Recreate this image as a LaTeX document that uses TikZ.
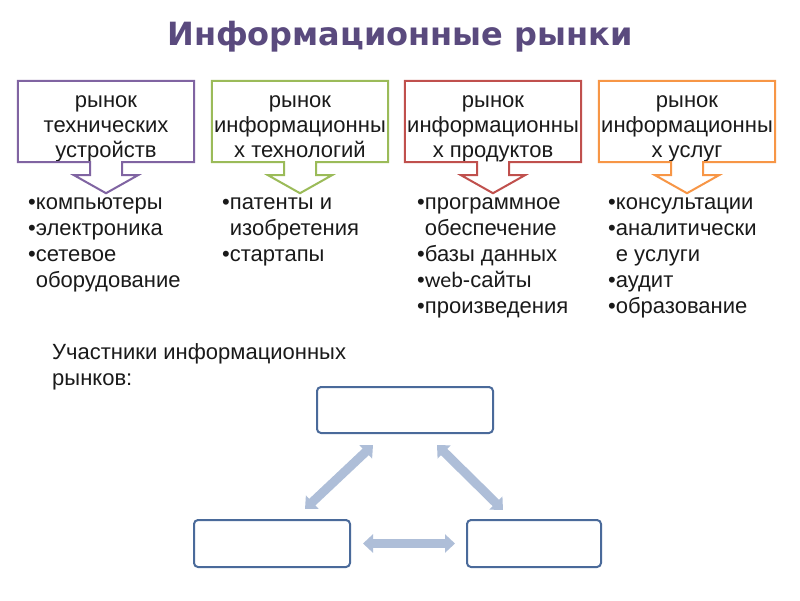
\documentclass[tikz,border=0pt]{standalone}
\usepackage{fontspec}
\setmainfont{Liberation Sans}
\newfontfamily\carlito{Carlito}
\newfontfamily\titlefont{DejaVu Sans}
\usetikzlibrary{calc,arrows.meta}
\definecolor{cpurple}{HTML}{8064A2}
\definecolor{cgreen}{HTML}{9BBB59}
\definecolor{cred}{HTML}{C0504D}
\definecolor{corange}{HTML}{F79646}
\definecolor{titlecol}{HTML}{5A4A7E}
\definecolor{textcol}{HTML}{1A1A1A}
\definecolor{pbox}{HTML}{4A6A9A}
\definecolor{arrowcol}{HTML}{AEBED8}
\newcommand\calloutshape[2]{%
  \draw[callout, draw=#2] (#1.north west) -- (#1.north east) -- (#1.south east)
   -- ($(#1.south)+(16,0)$) -- ($(#1.south)+(16,13)$) -- ($(#1.south)+(32,13)$)
   -- ($(#1.south)+(0,31)$) -- ($(#1.south)+(-32,13)$) -- ($(#1.south)+(-16,13)$)
   -- ($(#1.south)+(-16,0)$) -- (#1.south west) -- cycle;}
\begin{document}
\begin{tikzpicture}[x=1pt,y=-1pt,
  mbox/.style={inner sep=0pt, minimum width=176pt, text height=26pt, text depth=55pt,
    font=\fontsize{22}{25}\selectfont, text=textcol},
  callout/.style={line width=2pt, line join=miter},
  blist/.style={inner sep=0pt, anchor=base west, font=\fontsize{22}{26}\selectfont, text=textcol},
  pnode/.style={draw=pbox, line width=2pt, rounded corners=4pt, fill=white, inner sep=0pt},
  dbl/.style={line width=9pt, draw=arrowcol,
    arrows={Triangle[width=18pt,length=10pt]-Triangle[width=18pt,length=10pt]}}
]
\useasboundingbox (0,0) rectangle (800,600);
\fill[white] (0,0) rectangle (800,600);

\node[anchor=base, font=\titlefont\bfseries\fontsize{32}{36}\selectfont, text=titlecol] (title) at (400,45) {Информационные рынки};

\node[mbox] (m1) at (106,121.5) {\begin{tabular}[t]{@{}c@{}}рынок\\технических\\устройств\end{tabular}};
\node[mbox] (m2) at (300,121.5) {\begin{tabular}[t]{@{}c@{}}рынок\\информационны\\х технологий\end{tabular}};
\node[mbox] (m3) at (493,121.5) {\begin{tabular}[t]{@{}c@{}}рынок\\информационны\\х продуктов\end{tabular}};
\node[mbox] (m4) at (687,121.5) {\begin{tabular}[t]{@{}c@{}}рынок\\информационны\\х услуг\end{tabular}};
\calloutshape{m1}{cpurple}
\calloutshape{m2}{cgreen}
\calloutshape{m3}{cred}
\calloutshape{m4}{corange}

\node[blist] (l1) at (28,209) {\begin{tabular}[t]{@{}l@{}}•компьютеры\\•электроника\\•сетевое\\\phantom{•}оборудование\end{tabular}};
\node[blist] (l2) at (222,209) {\begin{tabular}[t]{@{}l@{}}•патенты и\\\phantom{•}изобретения\\•стартапы\end{tabular}};
\node[blist] (l3) at (417,209) {\begin{tabular}[t]{@{}l@{}}•программное\\\phantom{•}обеспечение\\•базы данных\\•{\carlito web}-сайты\\•произведения\end{tabular}};
\node[blist] (l4) at (608,209) {\begin{tabular}[t]{@{}l@{}}•консультации\\•аналитически\\\phantom{•}е услуги\\•аудит\\•образование\end{tabular}};

\node[blist] (part) at (52,359) {\begin{tabular}[t]{@{}l@{}}Участники информационных\\рынков:\end{tabular}};

\node[pnode, minimum width=176pt, minimum height=46pt] (p1) at (405,410) {};
\node[pnode, minimum width=156pt, minimum height=47pt] (p2) at (272,543.5) {};
\node[pnode, minimum width=134pt, minimum height=47pt] (p3) at (534,543.5) {};

\draw[dbl] ($(p2.north)+(33,-10)$) -- ($(p1.south)+(-32,11)$);
\draw[dbl] ($(p1.south)+(32,11)$) -- ($(p3.north)+(-31,-9)$);
\draw[dbl, shorten <=12pt, shorten >=11pt] (p2.east) -- (p3.west);
\end{tikzpicture}
\end{document}
